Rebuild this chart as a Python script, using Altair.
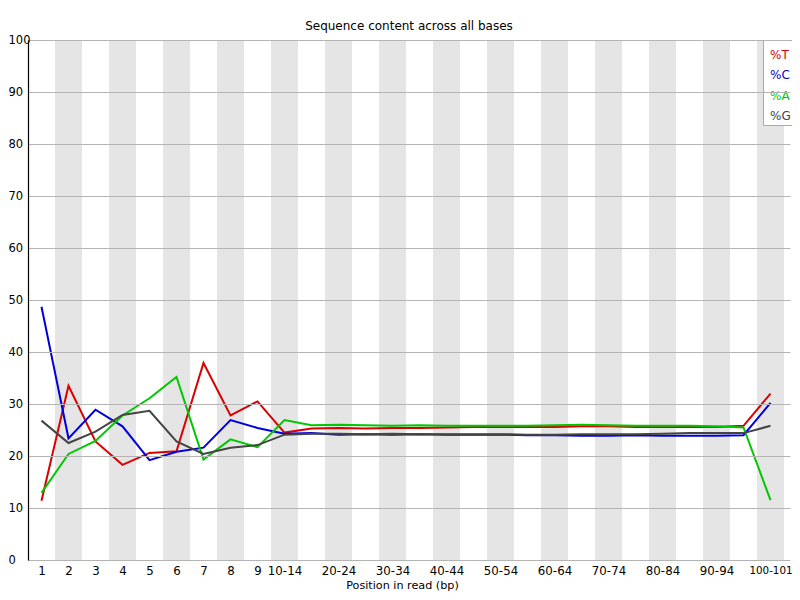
import altair as alt
import pandas as pd

positions = ["1", "2", "3", "4", "5", "6", "7", "8", "9",
             "10-14", "15-19", "20-24", "25-29", "30-34", "35-39", "40-44", "45-49",
             "50-54", "55-59", "60-64", "65-69", "70-74", "75-79", "80-84", "85-89",
             "90-94", "95-99", "100-101"]
shown_labels = ["1", "2", "3", "4", "5", "6", "7", "8", "9", "10-14", "20-24", "30-34",
                "40-44", "50-54", "60-64", "70-74", "80-84", "90-94", "100-101"]

pct_T = [11.4, 33.5, 22.8, 18.3, 20.6, 20.9, 37.9, 27.8, 30.5, 24.5,
         25.3, 25.4, 25.3, 25.4, 25.4, 25.5, 25.6, 25.6, 25.6, 25.6,
         25.7, 25.7, 25.6, 25.6, 25.6, 25.6, 25.8, 32.0]
pct_C = [48.7, 23.4, 28.9, 25.7, 19.2, 20.8, 21.6, 26.9, 25.4, 24.3,
         24.4, 24.1, 24.2, 24.1, 24.2, 24.1, 24.1, 24.1, 24.0, 24.0,
         23.9, 23.9, 24.0, 23.9, 23.9, 23.9, 24.0, 30.2]
pct_A = [12.9, 20.4, 22.9, 27.8, 31.1, 35.2, 19.3, 23.2, 21.7, 26.9,
         25.9, 26.0, 25.9, 25.8, 25.9, 25.8, 25.8, 25.8, 25.8, 25.9,
         26.0, 25.9, 25.8, 25.8, 25.8, 25.7, 25.5, 11.5]
pct_G = [26.8, 22.5, 24.7, 27.9, 28.7, 22.8, 20.4, 21.6, 22.1, 24.1,
         24.3, 24.3, 24.2, 24.3, 24.2, 24.2, 24.2, 24.2, 24.1, 24.1,
         24.2, 24.2, 24.2, 24.3, 24.4, 24.4, 24.4, 25.8]

bases = ["%T", "%C", "%A", "%G"]
base_colors = ["#dc0000", "#0000dc", "#00c800", "#444444"]
series = {"%T": pct_T, "%C": pct_C, "%A": pct_A, "%G": pct_G}

rows = []
for b in bases:
    for i, v in enumerate(series[b]):
        rows.append({"idx": i, "pos": positions[i], "base": b, "pct": v})
df = pd.DataFrame(rows)

band_df = pd.DataFrame({"idx": [i for i in range(len(positions)) if i % 2 == 1]})
band_df["x0"] = band_df["idx"] - 0.5
band_df["x1"] = band_df["idx"] + 0.5
band_df["y0"] = 0
band_df["y1"] = 100

label_map = {positions.index(l): l for l in shown_labels}
label_expr = "{" + ",".join(f"'{k}':'{v}'" for k, v in label_map.items()) + "}[datum.value]"
last_idx = len(positions) - 1

xscale = alt.Scale(domain=[-0.5, len(positions) - 0.5 + 6 / 27], zero=False, nice=False)
yscale = alt.Scale(domain=[0, 100], nice=False)

xaxis = alt.Axis(values=list(label_map.keys()), labelExpr=label_expr, title="Position in read (bp)",
                 grid=False, domain=False, ticks=False, labelPadding=5,
                 labelFontSize=alt.ExprRef(f"datum.value == {last_idx} ? 10.3 : 11.8"),
                 labelColor="black", titleFontSize=11.2, titleFontWeight="normal", titleColor="black",
                 titlePadding=3, titleX=374, labelFlush=False, labelOverlap=False, labelAngle=0)
yaxis = alt.Axis(values=list(range(0, 101, 10)), title=None, grid=True, gridColor="#b4b4b4",
                 gridWidth=1, domain=True, domainColor="black", domainWidth=1.2, ticks=False,
                 labelAlign="left", labelPadding=20, labelBaseline="middle", labelFontSize=11.5,
                 labelColor="black", zindex=1)

bands = alt.Chart(band_df).mark_rect(color="#e5e5e5").encode(
    x=alt.X("x0:Q", scale=xscale, axis=xaxis),
    x2="x1:Q",
    y=alt.Y("y0:Q", scale=yscale, axis=yaxis),
    y2="y1:Q",
)

color_scale = alt.Scale(domain=bases, range=base_colors)
label_color_expr = ("datum.label == '%T' ? '#dc0000' : datum.label == '%C' ? '#0000dc' : "
                    "datum.label == '%A' ? '#00c800' : '#444444'")
legend = alt.Legend(title=" ", titleFontSize=1, titlePadding=5, orient="none",
                    legendX=735, legendY=0, symbolSize=0,
                    symbolOpacity=0, symbolStrokeWidth=0, labelOffset=alt.ExprRef("-8"),
                    labelFontSize=12,
                    labelColor=alt.ExprRef(label_color_expr), rowPadding=8.3, padding=3,
                    strokeColor="#aaaaaa", fillColor="white")

lines = []
for k, b in enumerate(bases):
    lines.append(
        alt.Chart(df).transform_filter(alt.datum.base == b).mark_line(strokeWidth=2).encode(
            x=alt.X("idx:Q", scale=xscale),
            y=alt.Y("pct:Q", scale=yscale),
            color=alt.Color("base:N", scale=color_scale, sort=bases,
                            legend=legend if k == 0 else None),
        )
    )

chart = alt.layer(bands, *lines).properties(
    width=762, height=520,
    title=alt.TitleParams("Sequence content across all bases", fontSize=12, fontWeight="normal",
                          color="black", anchor="middle", offset=1),
    autosize=alt.AutoSizeParams(type="none"),
    padding={"left": 20, "top": 32, "right": 2, "bottom": 32},
).configure(font="DejaVu Sans").configure_view(stroke=None)

chart.save("out.html", embed_options={"renderer": "svg", "actions": False})
